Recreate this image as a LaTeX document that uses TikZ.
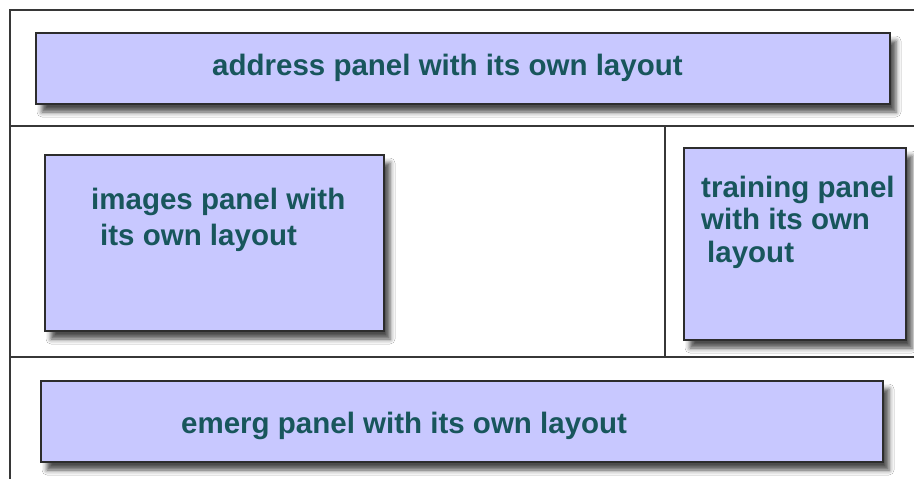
\documentclass[tikz,border=0pt]{standalone}
\usepackage{fontspec}
\setmainfont{Liberation Sans}
\usetikzlibrary{shadows.blur}
\definecolor{panelfill}{RGB}{200,200,255}
\definecolor{paneltext}{RGB}{24,86,92}
\definecolor{panelline}{RGB}{45,45,45}
\definecolor{frameline}{RGB}{55,55,55}
\begin{document}
\begin{tikzpicture}[x=1pt,y=-1pt,
  panel/.style={draw=panelline, line width=2pt, fill=panelfill, inner sep=0pt, anchor=north west,
    blur shadow={shadow xshift=6pt, shadow yshift=-8pt, shadow blur radius=5pt, shadow opacity=70}},
  paneltxt/.style={font=\fontsize{29.5}{33}\selectfont\bfseries, text=paneltext, inner sep=0pt, anchor=base west, align=left},
  frame/.style={draw=frameline, line width=2pt}]
\useasboundingbox (0,0) rectangle (914,479);
\fill[white] (0,0) rectangle (914,479);
% frame lines
\draw[frame] (914,10) -- (10,10) -- (10,479);
\draw[frame] (10,126) -- (914,126);
\draw[frame] (10,357) -- (914,357);
\draw[frame] (665,126) -- (665,357);
% panels
\node[panel, minimum width=854pt, minimum height=71pt] (address) at (35,32) {};
\node[panel, minimum width=339pt, minimum height=176pt] (images) at (44,154) {};
\node[panel, minimum width=222pt, minimum height=192pt] (training) at (683,147) {};
\node[panel, minimum width=842pt, minimum height=81pt] (emerg) at (40,380) {};
% texts (base anchor of a multi-line node is the last line's baseline)
\node[paneltxt] (addresstext) at (212,75) {address panel with its own layout};
\node[paneltxt] (emergtext) at (181,433) {emerg panel with its own layout};
\node[paneltxt, font=\fontsize{29.5}{36}\selectfont\bfseries] (imagestext) at (91,245) {images panel with\\\hspace*{9pt}its own layout};
\node[paneltxt, font=\fontsize{29.5}{32.5}\selectfont\bfseries] (trainingtext) at (701,262) {training panel\\with its own\\\hspace*{6pt}layout};
\end{tikzpicture}
\end{document}
